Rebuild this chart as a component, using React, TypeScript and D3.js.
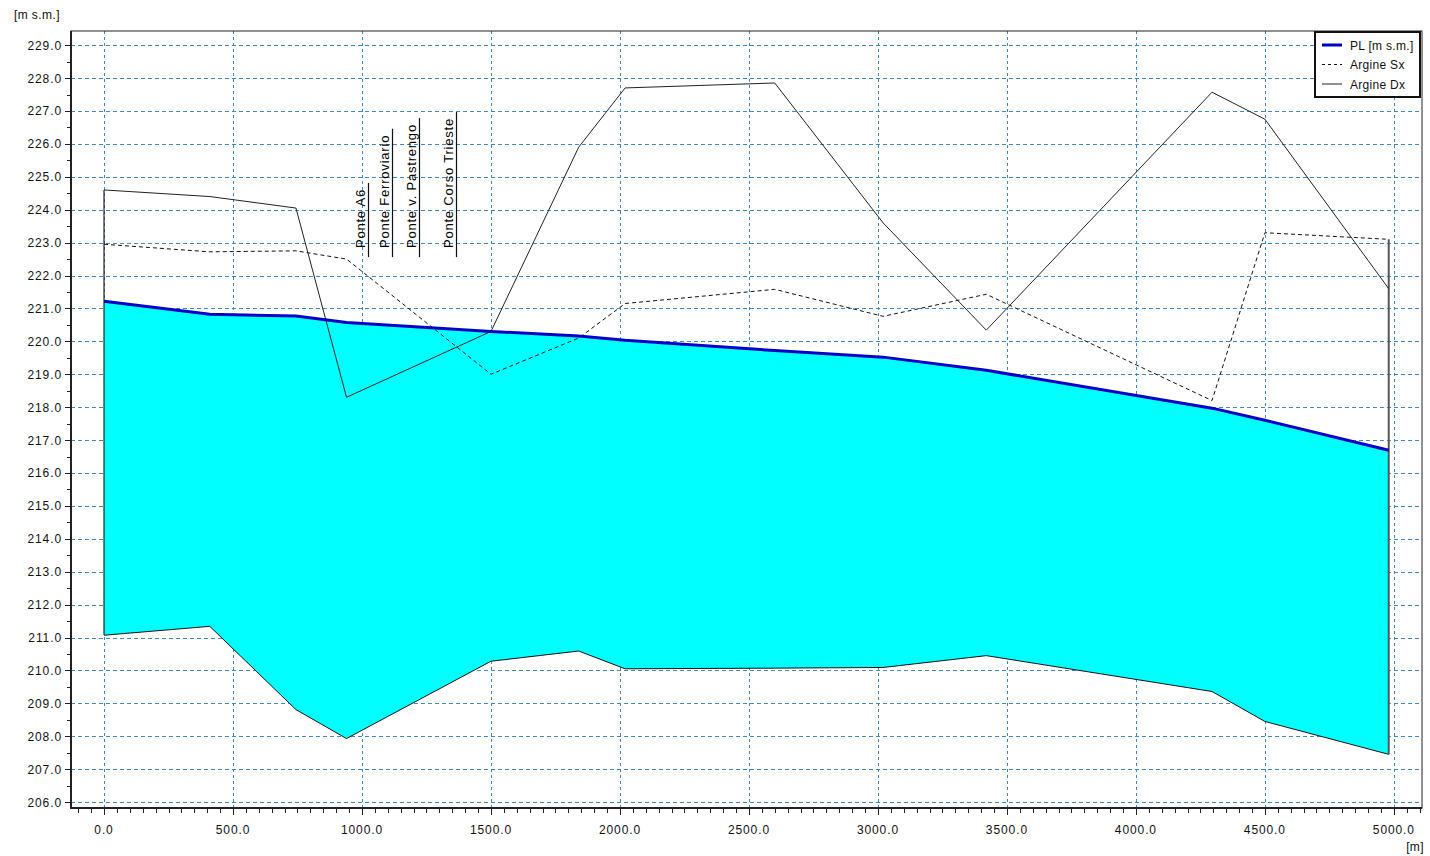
import React, { useEffect, useRef } from 'react';
import * as d3 from 'd3';

// Stations along the river [m]
const stations = [0, 410, 744, 940, 1500, 1840, 2020, 2600, 3020, 3420, 4295, 4500, 4980];
// Water surface level PL [m s.m.]
const waterLevel = [221.22, 220.82, 220.77, 220.57, 220.3, 220.16, 220.03, 219.72, 219.52, 219.12, 217.97, 217.6, 216.69];
// River bed
const bedLevel = [211.07, 211.34, 208.81, 207.93, 210.28, 210.59, 210.05, 210.07, 210.09, 210.45, 209.36, 208.45, 207.45];
// Left bank (Argine Sx)
const argineSx = [222.95, 222.72, 222.75, 222.5, 219.0, 220.1, 221.15, 221.58, 220.76, 221.43, 218.2, 223.3, 223.1];
// Right bank (Argine Dx)
const argineDx = [224.6, 224.4, 224.05, 218.3, 220.3, 225.9, 227.7, 227.85, 223.6, 220.34, 227.57, 226.75, 221.6];

const bridgeNames = ['Ponte A6', 'Ponte Ferroviario', 'Ponte v. Pastrengo', 'Ponte Corso Trieste'];
const bridgeStations = [1023, 1116, 1221, 1364];
const bridgeBaseLevel = 222.56;

const yTickValues = d3.range(206, 229.5, 1);
const xTickValues = d3.range(0, 5001, 500);
const legendLabels = ['PL [m s.m.]', 'Argine Sx', 'Argine Dx'];
const yUnit = '[m s.m.]';
const xUnit = '[m]';

const W = 1430;
const H = 856;
const FONT = "Arial, 'Liberation Sans', sans-serif";

export default function App() {
  const ref = useRef<SVGSVGElement | null>(null);

  useEffect(() => {
    const svg = d3.select(ref.current);
    svg.selectAll('*').remove();

    const L = 71, R = 1422, T = 31, B = 808;
    const x = d3.scaleLinear().domain([-128, 5109]).range([L, R]);
    const y = d3.scaleLinear().domain([205.82, 229.43]).range([B, T]);
    const gridColor = '#4189c4';

    svg.append('rect').attr('width', W).attr('height', H).attr('fill', '#fff');

    // Grid
    const grid = svg.append('g').attr('shape-rendering', 'crispEdges');
    yTickValues.forEach((v) => {
      grid.append('line')
        .attr('x1', L).attr('x2', R)
        .attr('y1', Math.round(y(v)) + 0.5).attr('y2', Math.round(y(v)) + 0.5)
        .attr('stroke', gridColor).attr('stroke-width', 1).attr('stroke-dasharray', '4 3');
    });
    xTickValues.forEach((v) => {
      grid.append('line')
        .attr('y1', T).attr('y2', B)
        .attr('x1', Math.round(x(v)) + 0.5).attr('x2', Math.round(x(v)) + 0.5)
        .attr('stroke', gridColor).attr('stroke-width', 1).attr('stroke-dasharray', '3 3');
    });

    const idx = stations.map((_, i) => i);

    // Water body fill
    const area = d3.area<number>()
      .x((i) => x(stations[i]))
      .y0((i) => y(bedLevel[i]))
      .y1((i) => y(waterLevel[i]));
    svg.append('path').attr('d', area(idx) as string).attr('fill', '#00ffff');

    const line = (vals: number[]) =>
      d3.line<number>().x((i) => x(stations[i])).y((i) => y(vals[i]))(idx) as string;

    // Bed
    svg.append('path').attr('d', line(bedLevel)).attr('fill', 'none').attr('stroke', '#111').attr('stroke-width', 1);

    // End verticals
    const first = 0, last = stations.length - 1;
    svg.append('line')
      .attr('x1', x(stations[first])).attr('x2', x(stations[first]))
      .attr('y1', y(bedLevel[first])).attr('y2', y(Math.max(argineDx[first], argineSx[first])))
      .attr('stroke', '#222').attr('stroke-width', 1.2);
    svg.append('line')
      .attr('x1', x(stations[last])).attr('x2', x(stations[last]))
      .attr('y1', y(bedLevel[last])).attr('y2', y(Math.max(argineDx[last], argineSx[last])))
      .attr('stroke', '#555').attr('stroke-width', 2);

    // Banks
    svg.append('path').attr('d', line(argineSx)).attr('fill', 'none')
      .attr('stroke', '#111').attr('stroke-width', 1).attr('stroke-dasharray', '4 3');
    svg.append('path').attr('d', line(argineDx)).attr('fill', 'none')
      .attr('stroke', '#222').attr('stroke-width', 1);

    // Water level
    svg.append('path').attr('d', line(waterLevel)).attr('fill', 'none')
      .attr('stroke', '#0000c8').attr('stroke-width', 3);

    // Bridge labels
    bridgeNames.forEach((name, i) => {
      const bx = Math.round(x(bridgeStations[i])) + 0.5;
      const by = y(bridgeBaseLevel);
      const t = svg.append('text')
        .attr('transform', `translate(${bx - 4},${by - 9}) rotate(-90)`)
        .attr('font-family', FONT).attr('font-size', 13).attr('fill', '#000')
        .attr('letter-spacing', 0.8)
        .text(name);
      const len = (t.node() as SVGTextElement).getComputedTextLength();
      svg.append('line')
        .attr('x1', bx).attr('x2', bx)
        .attr('y1', by).attr('y2', by - 9 - len - 6)
        .attr('stroke', '#111').attr('stroke-width', 1.2);
    });

    // Frame
    svg.append('rect').attr('x', L).attr('y', T).attr('width', R - L).attr('height', B - T)
      .attr('fill', 'none').attr('stroke', '#222').attr('stroke-width', 1);
    svg.append('line').attr('x1', L).attr('x2', L).attr('y1', T).attr('y2', B + 1)
      .attr('stroke', '#222').attr('stroke-width', 2);
    svg.append('line').attr('x1', L - 1).attr('x2', R).attr('y1', B).attr('y2', B)
      .attr('stroke', '#222').attr('stroke-width', 2);

    // Y ticks
    const axes = svg.append('g').attr('shape-rendering', 'crispEdges');
    d3.range(206, 229.01, 0.5).forEach((v) => {
      const major = Math.abs(v - Math.round(v)) < 1e-6;
      const yy = Math.round(y(v)) + 0.5;
      axes.append('line').attr('x1', L - (major ? 6 : 4)).attr('x2', L)
        .attr('y1', yy).attr('y2', yy).attr('stroke', '#222');
    });
    yTickValues.forEach((v) => {
      svg.append('text').attr('x', 62).attr('y', y(v) + 4.5)
        .attr('text-anchor', 'end').attr('font-family', FONT).attr('font-size', 12)
        .attr('letter-spacing', 0.9).attr('fill', '#111')
        .text(v.toFixed(1));
    });

    // X ticks
    d3.range(-100, 5101, 50).forEach((v) => {
      const major = v % 500 === 0;
      const xx = Math.round(x(v)) + 0.5;
      axes.append('line').attr('x1', xx).attr('x2', xx)
        .attr('y1', B).attr('y2', B + (major ? 7 : 5)).attr('stroke', '#222');
    });
    xTickValues.forEach((v) => {
      svg.append('text').attr('x', x(v)).attr('y', 834)
        .attr('text-anchor', 'middle').attr('font-family', FONT).attr('font-size', 12)
        .attr('letter-spacing', 0.9).attr('fill', '#111')
        .text(v.toFixed(1));
    });

    // Units
    svg.append('text').attr('x', 14).attr('y', 19).attr('font-family', FONT).attr('font-size', 12)
      .attr('letter-spacing', 0.4).attr('fill', '#111').text(yUnit);
    svg.append('text').attr('x', 1424).attr('y', 851).attr('text-anchor', 'end')
      .attr('font-family', FONT).attr('font-size', 12).attr('letter-spacing', 0.4)
      .attr('fill', '#111').text(xUnit);

    // Legend
    const lg = svg.append('g');
    lg.append('rect').attr('x', 1315).attr('y', 32).attr('width', 105).attr('height', 65)
      .attr('fill', '#fff').attr('stroke', '#111').attr('stroke-width', 2);
    const styles = [
      { stroke: '#0000c8', width: 3, dash: null },
      { stroke: '#111', width: 1, dash: '3 3' },
      { stroke: '#222', width: 1, dash: null },
    ];
    legendLabels.forEach((lab, i) => {
      const ly = 45 + i * 19.5;
      const l = lg.append('line').attr('x1', 1322).attr('x2', 1342).attr('y1', ly).attr('y2', ly)
        .attr('stroke', styles[i].stroke).attr('stroke-width', styles[i].width);
      if (styles[i].dash) l.attr('stroke-dasharray', styles[i].dash as string);
      lg.append('text').attr('x', 1350).attr('y', ly + 4.5).attr('font-family', FONT)
        .attr('font-size', 12).attr('letter-spacing', 0.3).attr('fill', '#111').text(lab);
    });
  }, []);

  return (
    <svg
      ref={ref}
      width={W}
      height={H}
      style={{ position: 'absolute', left: 0, top: 0, display: 'block' }}
    />
  );
}
